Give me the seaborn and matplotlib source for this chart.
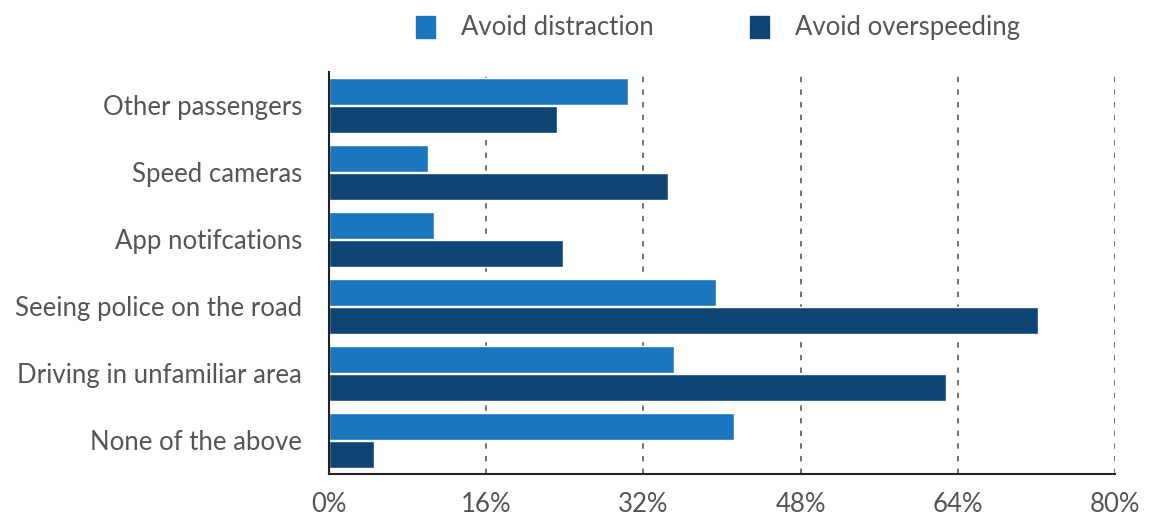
import matplotlib
matplotlib.use("Agg")
import matplotlib.pyplot as plt
import seaborn as sns
import pandas as pd
from matplotlib.ticker import FuncFormatter

categories = [
    "Other passengers",
    "Speed cameras",
    "App notifcations",
    "Seeing police on the road",
    "Driving in unfamiliar area",
    "None of the above",
]
avoid_distraction = [30.4, 10.1, 10.7, 39.4, 35.1, 41.2]
avoid_overspeeding = [23.2, 34.5, 23.8, 72.1, 62.8, 4.6]
series_names = ["Avoid distraction", "Avoid overspeeding"]
x_ticks = [0, 16, 32, 48, 64, 80]

colors = ["#1C76BD", "#0F4475"]
text_color = "#555555"
font_size = 18.5

df = pd.DataFrame({
    "category": categories * 2,
    "series": [series_names[0]] * len(categories) + [series_names[1]] * len(categories),
    "value": avoid_distraction + avoid_overspeeding,
})

sns.set_theme(style="white")
plt.rcParams["font.family"] = ["Lato", "DejaVu Sans"]

fig = plt.figure(figsize=(11.52, 5.18), dpi=100)
ax = fig.add_axes([0.2856, 0.085, 0.6824, 0.776])

sns.barplot(
    data=df, y="category", x="value", hue="series", order=categories,
    hue_order=series_names, palette=colors, orient="h",
    width=0.86, gap=0.06, saturation=1, ax=ax, legend=False,
)

ax.set_xlim(0, 80)
ax.set_ylim(len(categories) - 0.5, -0.5)
ax.set_xticks(x_ticks)
ax.xaxis.set_major_formatter(FuncFormatter(lambda v, _: f"{v:.0f}%"))
ax.set_xlabel("")
ax.set_ylabel("")

for t in x_ticks[1:]:
    ax.axvline(t, color="#666666", linestyle=(0, (3, 4)), linewidth=1.3, zorder=0)

for side in ["top", "right"]:
    ax.spines[side].set_visible(False)
ax.spines["left"].set_color("#222222")
ax.spines["left"].set_linewidth(1.5)
ax.spines["bottom"].set_color("#222222")
ax.spines["bottom"].set_linewidth(1.5)

ax.tick_params(axis="x", length=0, pad=13, labelsize=font_size, labelcolor=text_color)
ax.tick_params(axis="y", length=0, pad=19.5, labelsize=font_size, labelcolor=text_color)

# legend as coloured squares above the plot
handles = [plt.Rectangle((0, 0), 1, 1, color=c) for c in colors]
leg = fig.legend(
    handles, series_names, loc="upper left", bbox_to_anchor=(0.352, 0.99),
    ncol=2, frameon=False, fontsize=font_size, handlelength=0.75, handleheight=0.95,
    handletextpad=1.0, columnspacing=3.75, borderaxespad=0.0,
)
for t in leg.get_texts():
    t.set_color(text_color)

fig.savefig("out.png", dpi=100)
